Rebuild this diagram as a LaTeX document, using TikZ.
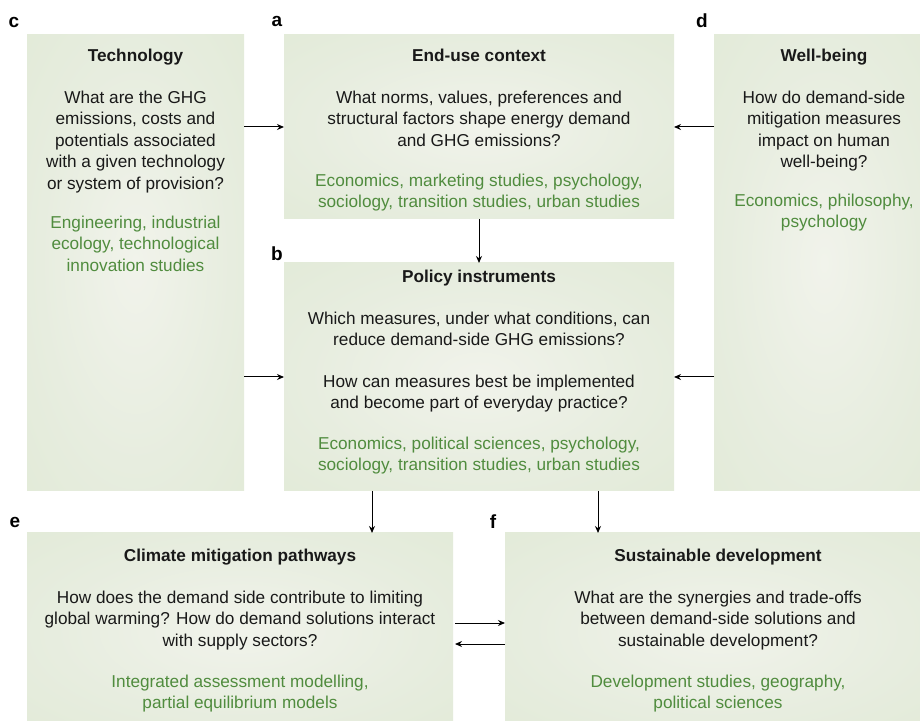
\documentclass[tikz,border=0pt]{standalone}
\usepackage{fontspec}
\setmainfont{Liberation Sans}
\usetikzlibrary{arrows.meta}
\definecolor{boxout}{RGB}{222,232,210}
\definecolor{boxmid}{RGB}{231,237,223}
\definecolor{boxin}{RGB}{241,243,235}
\definecolor{discg}{RGB}{80,140,62}
\definecolor{txt}{RGB}{25,25,25}
\pgfdeclareradialshading{boxshade}{\pgfpoint{0bp}{0bp}}{color(0bp)=(boxin); color(22bp)=(boxmid); color(50bp)=(boxout); color(75bp)=(boxout)}
\newcommand\discp[1]{\textcolor{discg}{#1}}
\tikzset{
  panel/.style={shading=boxshade, draw=none, inner sep=0pt, outer sep=0pt, anchor=south west},
  txtblock/.style={inner sep=0pt, align=center, anchor=north, text=txt, font=\fontsize{17.2}{21.5}\selectfont},
  lab/.style={inner sep=0pt, font=\fontsize{19}{21}\selectfont\bfseries},
  arr/.style={draw=black, line width=1pt, -{Stealth[length=7pt,width=6pt]}}
}
\begin{document}
\begin{tikzpicture}[x=1pt,y=1pt]
\clip (0,0) rectangle (920,720);
\fill[white] (0,0) rectangle (920,720);
% panels
\node[panel, minimum width=217pt, minimum height=456pt] (c) at (27,229) {};
\node[panel, minimum width=390pt, minimum height=184pt] (a) at (284,501) {};
\node[panel, minimum width=390pt, minimum height=228pt] (b) at (284,229) {};
\node[panel, minimum width=220pt, minimum height=456pt] (d) at (714,229) {};
\node[panel, minimum width=426pt, minimum height=197pt] (e) at (27,-10) {};
\node[panel, minimum width=426pt, minimum height=197pt] (f) at (505,-10) {};
% labels
\node[lab] (lc) at (14,698) {c};
\node[lab] (la) at (277,699) {a};
\node[lab] (ld) at (702,699) {d};
\node[lab] (lb) at (277,466) {b};
\node[lab] (le) at (15,198) {e};
\node[lab] (lf) at (493,198) {f};
% texts
\node[txtblock] (tc) at (135.5,674) {\textbf{\strut Technology}\\[20.5pt]
What are the GHG\\emissions, costs and\\potentials associated\\with a given technology\\or system of provision?\\[17.5pt]
\discp{Engineering, industrial}\\\discp{ecology, technological}\\\discp{innovation studies}};
\node[txtblock] (ta) at (479,674) {\textbf{\strut End-use context}\\[20.5pt]
What norms, values, preferences and\\structural factors shape energy demand\\and GHG emissions?\\[18.5pt]
\discp{Economics, marketing studies, psychology,}\\\discp{sociology, transition studies, urban studies}};
\node[txtblock] (td) at (824,674) {\textbf{\strut Well-being}\\[20.5pt]
How do demand-side\\mitigation measures\\impact on human\\well-being?\\[17pt]
\discp{Economics, philosophy,}\\\discp{psychology}};
\node[txtblock] (tb) at (479,453) {\textbf{\strut Policy instruments}\\[20.5pt]
Which measures, under what conditions, can\\reduce demand-side GHG emissions?\\[20pt]
How can measures best be implemented\\and become part of everyday practice?\\[19pt]
\discp{Economics, political sciences, psychology,}\\\discp{sociology, transition studies, urban studies}};
\node[txtblock] (te) at (240,174) {\textbf{\strut Climate mitigation pathways}\\[20.5pt]
How does the demand side contribute to limiting\\global warming? How do demand solutions interact\\with supply sectors?\\[19.5pt]
\discp{Integrated assessment modelling,}\\\discp{partial equilibrium models}};
\node[txtblock] (tf) at (718,174) {\textbf{\strut Sustainable development}\\[20.5pt]
What are the synergies and trade-offs\\between demand-side solutions and\\sustainable development?\\[19.5pt]
\discp{Development studies, geography,}\\\discp{political sciences}};
% connectors
\draw[arr] (c.east |- a.center) -- (a.west);
\draw[arr] (d.west |- a.center) -- (a.east);
\draw[arr] (a.south) -- (b.north);
\draw[arr] (c.east |- b.center) -- (b.west);
\draw[arr] (d.west |- b.center) -- (b.east);
\draw[arr] ([xshift=88pt]b.south west) -- ([xshift=88pt]b.south west |- e.north);
\draw[arr] ([xshift=-76pt]b.south east) -- ([xshift=-76pt]b.south east |- f.north);
\draw[arr] ([shift={(2pt,-90pt)}]e.north east) -- ([yshift=-90pt]f.north west);
\draw[arr] ([yshift=-111pt]f.north west) -- ([shift={(2pt,-111pt)}]e.north east);
\end{tikzpicture}
\end{document}
